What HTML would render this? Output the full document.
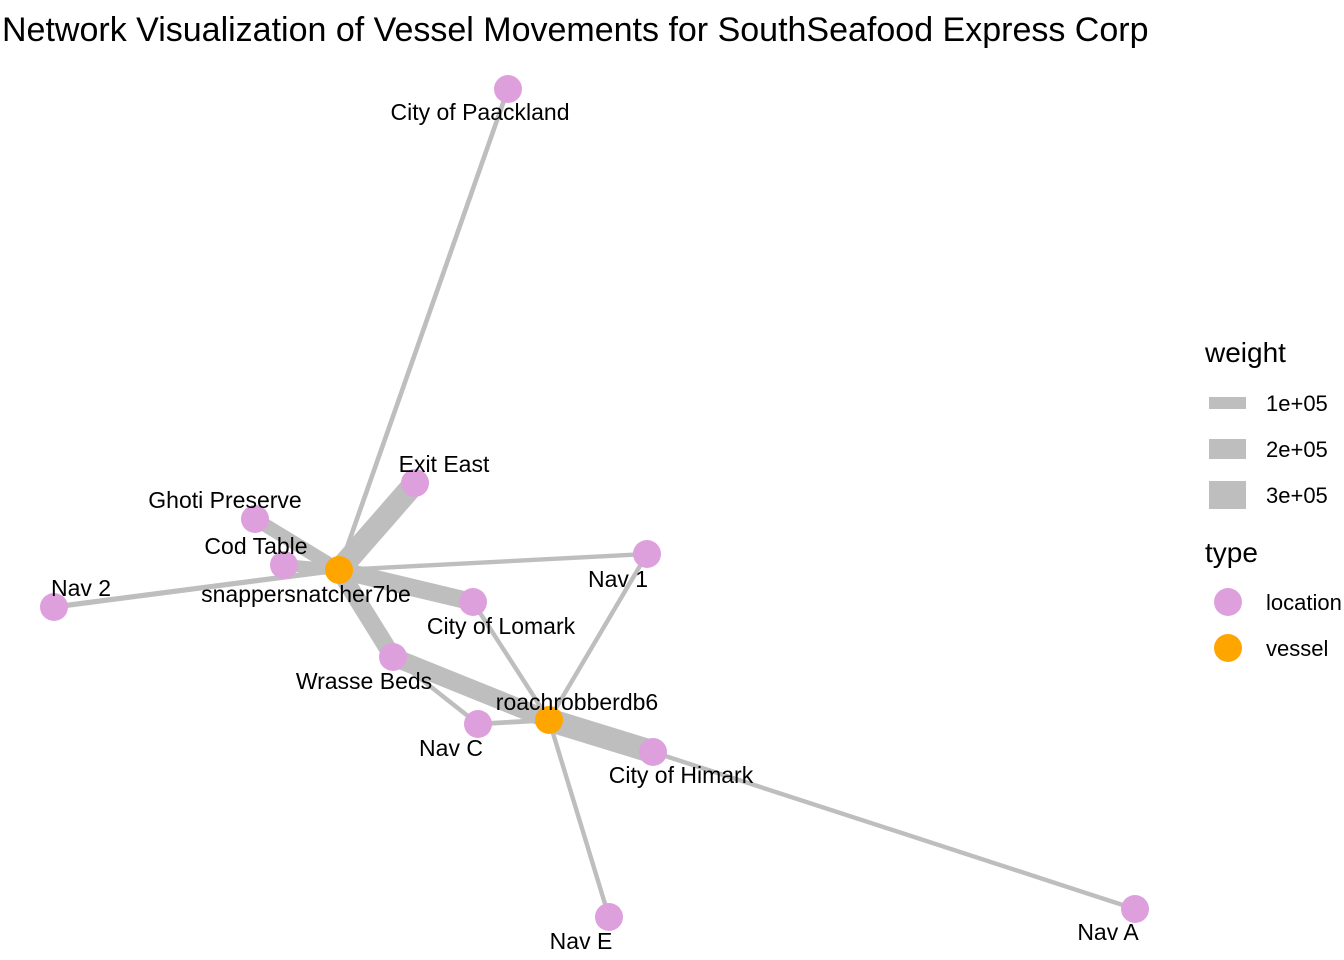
<!DOCTYPE html>
<html><head><meta charset="utf-8"><style>
body{margin:0;background:#fff;}
svg{display:block;font-family:"Liberation Sans",Arial,sans-serif;}
</style></head><body>
<svg id="chart" width="1344" height="960">
<text x="2" y="41" font-size="34" fill="#000">Network Visualization of Vessel Movements for SouthSeafood Express Corp</text>
<g id="edges"></g>
<g id="nodes"></g>
<g id="legend">
<text x="1205" y="362" font-size="28">weight</text>
<text x="1205" y="562" font-size="28">type</text>
</g>
</svg>
<script>
const nodeNames=["City of Paackland","Exit East","Ghoti Preserve","Cod Table","snappersnatcher7be","Nav 2","Nav 1","City of Lomark","Wrasse Beds","roachrobberdb6","Nav C","City of Himark","Nav E","Nav A"];
const nodeTypes=["location","location","location","location","vessel","location","location","location","location","vessel","location","location","location","location"];
const nodeX=[508,415,255,284,339,54,647,473,393,549,478,653,609,1135];
const nodeY=[89,483,519,565,570,607,554,602,657,720,724,752,917,909];
const labelDX=[-28,29,-30,-28,-33,27,-29,28,-29,28,-27,28,-28,-27];
const labelDY=[23,-19,-19,-19,24,-19,25,24,24,-18,24,23,24,23];
const edgeFrom=[4,4,4,4,4,4,4,4,9,9,9,9,9,8,9,11];
const edgeTo=[0,1,2,3,5,6,7,8,11,8,7,6,10,10,12,13];
const edgeWeight=[8000,230000,120000,100000,15000,5000,170000,170000,240000,180000,5000,5000,10000,5000,5000,5000];
const legendWeights=[100000,200000,300000];
const legendLabels=["1e+05","2e+05","3e+05"];
const typeLabels=["location","vessel"];
const typeColors={location:"#DDA0DD",vessel:"#FFA500"};
const NS="http://www.w3.org/2000/svg";
function wScale(w){return 4+8*w/100000;}
const eg=document.getElementById('edges'),ng=document.getElementById('nodes'),lg=document.getElementById('legend');
edgeFrom.forEach((f,i)=>{const t=edgeTo[i];const l=document.createElementNS(NS,'line');
l.setAttribute('x1',nodeX[f]);l.setAttribute('y1',nodeY[f]);l.setAttribute('x2',nodeX[t]);l.setAttribute('y2',nodeY[t]);
l.setAttribute('stroke','#BEBEBE');l.setAttribute('stroke-width',wScale(edgeWeight[i]));

eg.appendChild(l);});
nodeNames.forEach((n,i)=>{const c=document.createElementNS(NS,'circle');
c.setAttribute('cx',nodeX[i]);c.setAttribute('cy',nodeY[i]);c.setAttribute('r',14);c.setAttribute('fill',typeColors[nodeTypes[i]]);

ng.appendChild(c);});
nodeNames.forEach((n,i)=>{const t=document.createElementNS(NS,'text');
t.setAttribute('x',nodeX[i]+labelDX[i]);t.setAttribute('y',nodeY[i]+labelDY[i]+8);t.setAttribute('text-anchor','middle');t.setAttribute('font-size','23');
t.textContent=n;

ng.appendChild(t);});
legendWeights.forEach((w,i)=>{const cy=403+46*i;const h=wScale(w);const r=document.createElementNS(NS,'rect');
r.setAttribute('x',1209);r.setAttribute('y',cy-h/2);r.setAttribute('width',37);r.setAttribute('height',h);r.setAttribute('fill','#BEBEBE');

lg.appendChild(r);
const t=document.createElementNS(NS,'text');t.setAttribute('x',1266);t.setAttribute('y',cy+8);t.setAttribute('font-size','22');t.textContent=legendLabels[i];

lg.appendChild(t);});
typeLabels.forEach((k,i)=>{const cy=602+46*i;const c=document.createElementNS(NS,'circle');
c.setAttribute('cx',1228);c.setAttribute('cy',cy);c.setAttribute('r',14);c.setAttribute('fill',typeColors[k]);

lg.appendChild(c);
const t=document.createElementNS(NS,'text');t.setAttribute('x',1266);t.setAttribute('y',cy+8);t.setAttribute('font-size','22');t.textContent=k;

lg.appendChild(t);});
</script>
</body></html>
